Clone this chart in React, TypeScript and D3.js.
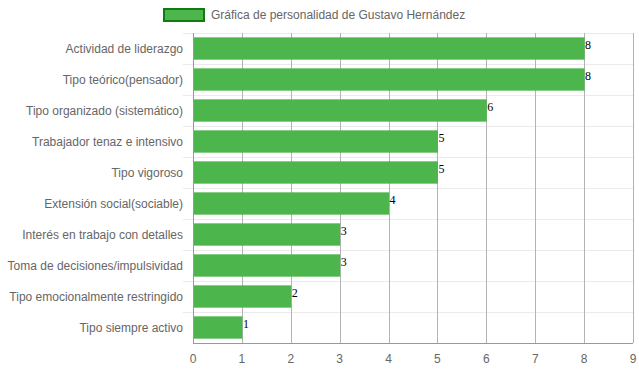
import React, { useEffect, useRef } from 'react';
import * as d3 from 'd3';

const categories = [
  'Actividad de liderazgo',
  'Tipo teórico(pensador)',
  'Tipo organizado (sistemático)',
  'Trabajador tenaz e intensivo',
  'Tipo vigoroso',
  'Extensión social(sociable)',
  'Interés en trabajo con detalles',
  'Toma de decisiones/impulsividad',
  'Tipo emocionalmente restringido',
  'Tipo siempre activo',
];
const values = [8, 8, 6, 5, 5, 4, 3, 3, 2, 1];
const xTicks = [0, 1, 2, 3, 4, 5, 6, 7, 8, 9];
const legendLabel = 'Gráfica de personalidad de Gustavo Hernández';

const App = () => {
  const svgRef = useRef(null);

  useEffect(() => {
    const width = 639;
    const height = 372;
    const left = 193;
    const right = 633;
    const top = 33;
    const bottom = 343;
    const font = '"Liberation Sans", Arial, sans-serif';

    const svg = d3.select(svgRef.current);
    svg.selectAll('*').remove();
    svg.attr('width', width).attr('height', height);

    const x = d3.scaleLinear().domain([0, 9]).range([left, right]);
    const y = d3.scaleBand().domain(categories).range([top, bottom]);
    const inner = y.bandwidth() * 0.72;

    // horizontal grid lines (category boundaries)
    const bounds = categories.map(c => y(c));
    svg.append('g')
      .selectAll('line')
      .data(bounds)
      .enter()
      .append('line')
      .attr('x1', left - 10)
      .attr('x2', right)
      .attr('y1', d => Math.round(d) + 0.5)
      .attr('y2', d => Math.round(d) + 0.5)
      .attr('stroke', '#ebebeb')
      .attr('stroke-width', 1);

    // vertical grid lines
    svg.append('g')
      .selectAll('line')
      .data(xTicks)
      .enter()
      .append('line')
      .attr('x1', d => Math.round(x(d)) + 0.5)
      .attr('x2', d => Math.round(x(d)) + 0.5)
      .attr('y1', top)
      .attr('y2', bottom)
      .attr('stroke', d => (d === 0 ? '#999' : '#b3b3b3'))
      .attr('stroke-width', 1);

    // bars
    svg.append('g')
      .selectAll('rect')
      .data(values)
      .enter()
      .append('rect')
      .attr('x', left + 1)
      .attr('y', (d, i) => y(categories[i]) + (y.bandwidth() - inner) / 2)
      .attr('width', d => x(d) - left - 0.5)
      .attr('height', inner)
      .attr('fill', '#4cb64c');

    // bottom axis line
    svg.append('line')
      .attr('x1', left)
      .attr('x2', right)
      .attr('y1', bottom + 0.5)
      .attr('y2', bottom + 0.5)
      .attr('stroke', '#999');

    // value labels
    svg.append('g')
      .selectAll('text')
      .data(values)
      .enter()
      .append('text')
      .attr('x', d => x(d) + 1)
      .attr('y', (d, i) => y(categories[i]) + y.bandwidth() / 2 + 0.5)
      .style('font-family', '"Liberation Serif", "Times New Roman", serif')
      .style('font-size', '12px')
      .attr('fill', '#000')
      .text(d => d);

    // y tick labels
    svg.append('g')
      .selectAll('text')
      .data(categories)
      .enter()
      .append('text')
      .attr('x', left - 10)
      .attr('y', d => y(d) + y.bandwidth() / 2 + 4)
      .attr('text-anchor', 'end')
      .style('font-family', font)
      .style('font-size', '12px')
      .attr('fill', '#666')
      .text(d => d);

    // x tick labels
    svg.append('g')
      .selectAll('text')
      .data(xTicks)
      .enter()
      .append('text')
      .attr('x', d => x(d))
      .attr('y', bottom + 20)
      .attr('text-anchor', 'middle')
      .style('font-family', font)
      .style('font-size', '12px')
      .attr('fill', '#666')
      .text(d => d);

    // legend
    svg.append('rect')
      .attr('x', 164)
      .attr('y', 9)
      .attr('width', 40)
      .attr('height', 12)
      .attr('fill', '#4cb64c')
      .attr('stroke', '#137a13')
      .attr('stroke-width', 2);

    svg.append('text')
      .attr('x', 211)
      .attr('y', 19)
      .style('font-family', font)
      .style('font-size', '12px')
      .attr('fill', '#666')
      .text(legendLabel);
  }, []);

  return (
    <div style={{ position: 'absolute', left: 0, top: 0 }}>
      <svg ref={svgRef}></svg>
    </div>
  );
};

export default App;
